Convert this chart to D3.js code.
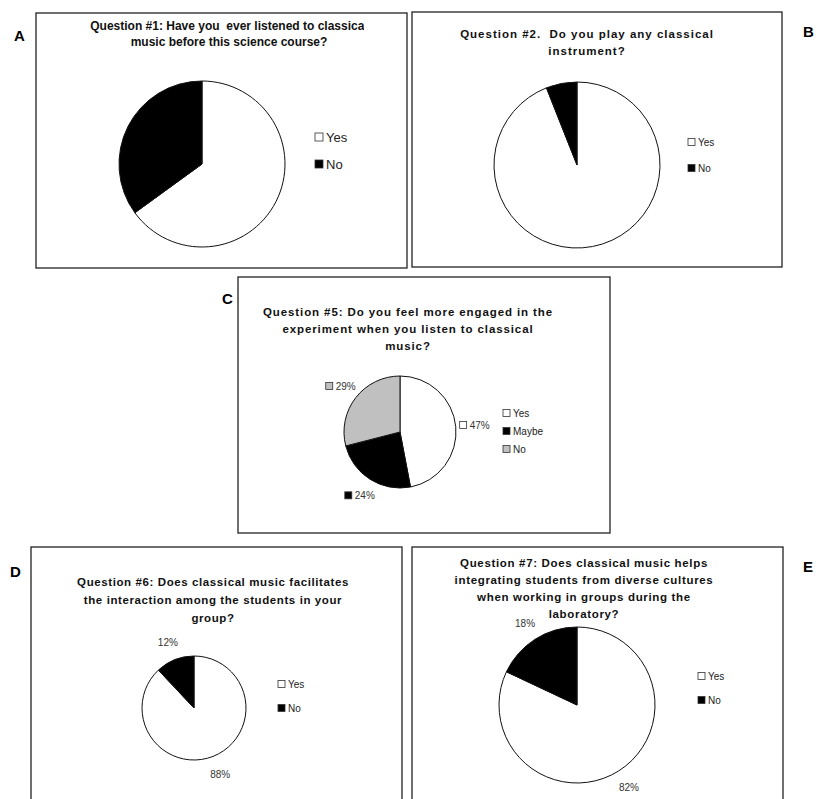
<!DOCTYPE html>
<html>
<head>
<meta charset="utf-8">
<script src="https://cdn.jsdelivr.net/npm/d3@7"></script>
<style>
  body { margin: 0; background: #fff; }
  svg { display: block; font-family: "Liberation Sans", Arial, sans-serif; }
  .title { white-space: pre; }
</style>
</head>
<body>
<svg width="817" height="799"></svg>
<script>
// survey answers, percent of students
const q1Labels = ["Yes", "No"];
const q1Values = [65, 35];
const q2Labels = ["Yes", "No"];
const q2Values = [94, 6];
const q5Labels = ["Yes", "Maybe", "No"];
const q5Values = [47, 24, 29];
const q6Labels = ["Yes", "No"];
const q6Values = [88, 12];
const q7Labels = ["Yes", "No"];
const q7Values = [82, 18];

const fills = {Yes: "#ffffff", Maybe: "#000000", No: "#000000"};
const q5Fills = {Yes: "#ffffff", Maybe: "#000000", No: "#c0c0c0"};

const panels = [
  {letter: "A", lx: 14, ly: 41, box: [36, 13, 407, 268],
   title: ["Question #1: Have you  ever listened to classical", "music before this science course?"],
   tx: 229, ty: 30, tdy: 16, tsize: 12, tspace: 0, clip: 364,
   labels: q1Labels, values: q1Values, colors: fills,
   cx: 202, cy: 164, r: 83, pct: false,
   legX: 315, legY: 137, legDy: 27, legSize: 13, sq: 8},
  {letter: "B", lx: 803, ly: 37, box: [412, 12, 782, 267],
   title: ["Question #2.  Do you play any classical", "instrument?"],
   tx: 587, ty: 38, tdy: 17, tsize: 11.5, tspace: 1.0,
   labels: q2Labels, values: q2Values, colors: fills,
   cx: 577, cy: 165, r: 83, pct: false,
   legX: 688, legY: 142, legDy: 26, legSize: 10, sq: 7},
  {letter: "C", lx: 222, ly: 304, box: [238, 277, 610, 533],
   title: ["Question #5: Do you feel more engaged in the", "experiment when you listen to classical", "music?"],
   tx: 408, ty: 316, tdy: 17, tsize: 11.5, tspace: 0.9,
   labels: q5Labels, values: q5Values, colors: q5Fills,
   cx: 400, cy: 432, r: 56, pct: true, pctBox: true,
   legX: 503, legY: 413, legDy: 18, legSize: 10, sq: 7},
  {letter: "D", lx: 10, ly: 577, box: [31, 547, 402, 820],
   title: ["Question #6: Does classical music facilitates", "the interaction among the students in your", "group?"],
   tx: 213, ty: 586, tdy: 18, tsize: 11.5, tspace: 0.6,
   labels: q6Labels, values: q6Values, colors: fills,
   cx: 194, cy: 708, r: 52, pct: true, pctBox: false,
   legX: 278, legY: 684, legDy: 24, legSize: 10, sq: 7},
  {letter: "E", lx: 803, ly: 572, box: [412, 547, 783, 820],
   title: ["Question #7: Does classical music helps", "integrating students from diverse cultures", "when working in groups during the", "laboratory?"],
   tx: 584, ty: 567, tdy: 17, tsize: 11.5, tspace: 0.67,
   labels: q7Labels, values: q7Values, colors: fills,
   cx: 577, cy: 705, r: 78, pct: true, pctBox: false,
   legX: 698, legY: 676, legDy: 24, legSize: 10, sq: 7}
];

const svg = d3.select("svg");
const pie = d3.pie().sort(null).value(d => d.value);

panels.forEach((p, i) => {
  const data = p.labels.map((l, k) => ({label: l, value: p.values[k]}));

  svg.append("text")
    .attr("x", p.lx).attr("y", p.ly)
    .attr("font-size", 15).attr("font-weight", "bold")
    .text(p.letter);

  svg.append("rect")
    .attr("x", p.box[0]).attr("y", p.box[1])
    .attr("width", p.box[2] - p.box[0]).attr("height", p.box[3] - p.box[1])
    .attr("fill", "none").attr("stroke", "#222").attr("stroke-width", 1.3);

  if (p.clip) {
    svg.append("clipPath").attr("id", "clip" + i)
      .append("rect").attr("x", p.box[0]).attr("y", p.box[1])
      .attr("width", p.clip - p.box[0]).attr("height", 60);
  }
  const title = svg.append("text")
    .attr("class", "title")
    .attr("text-anchor", "middle")
    .attr("font-size", p.tsize).attr("font-weight", "bold")
    .attr("letter-spacing", p.tspace)
    .attr("fill", "#111")
    .attr("clip-path", p.clip ? "url(#clip" + i + ")" : null);
  title.selectAll("tspan").data(p.title).enter().append("tspan")
    .attr("x", p.tx).attr("y", (d, k) => p.ty + k * p.tdy)
    .text(d => d);

  const g = svg.append("g").attr("transform", `translate(${p.cx},${p.cy})`);
  const arc = d3.arc().innerRadius(0).outerRadius(p.r);
  const arcs = pie(data);
  g.selectAll("path").data(arcs).enter().append("path")
    .attr("d", arc)
    .attr("fill", d => p.colors[d.data.label])
    .attr("stroke", "#111").attr("stroke-width", 1);

  if (p.pct) {
    const la = d3.arc().innerRadius(p.r + 19).outerRadius(p.r + 19);
    arcs.forEach(d => {
      const [x, y] = la.centroid(d);
      const t = g.append("text")
        .attr("x", x + (p.pctBox ? 5 : 0)).attr("y", y + 4)
        .attr("text-anchor", "middle")
        .attr("font-size", 10).attr("fill", "#333")
        .text(d.data.value + "%");
      if (p.pctBox) {
        const w = t.node().getComputedTextLength();
        g.append("rect")
          .attr("x", x + 5 - w / 2 - 10).attr("y", y - 3.5)
          .attr("width", 7).attr("height", 7)
          .attr("fill", p.colors[d.data.label])
          .attr("stroke", "#333").attr("stroke-width", 0.8);
      }
    });
  }

  const leg = svg.append("g").attr("transform", `translate(${p.legX},${p.legY})`);
  data.forEach((d, k) => {
    const y = k * p.legDy;
    leg.append("rect")
      .attr("x", 0).attr("y", y - p.sq / 2)
      .attr("width", p.sq).attr("height", p.sq)
      .attr("fill", p.colors[d.label])
      .attr("stroke", "#333").attr("stroke-width", 0.8);
    leg.append("text")
      .attr("x", p.sq + 3).attr("y", y + p.legSize * 0.36)
      .attr("font-size", p.legSize).attr("fill", "#222")
      .text(d.label);
  });
});
</script>
</body>
</html>
